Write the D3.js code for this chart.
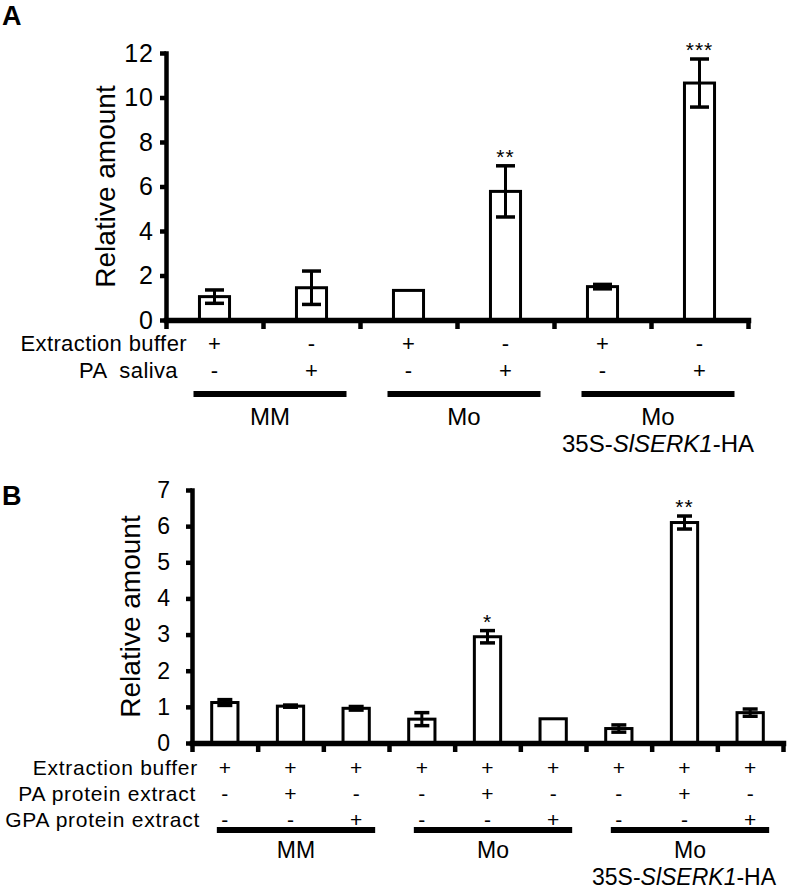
<!DOCTYPE html>
<html>
<head>
<meta charset="utf-8">
<script src="https://cdn.jsdelivr.net/npm/d3@7"></script>
<style>
  body { margin: 0; background: #fff; }
  svg text { font-family: "Liberation Sans", Arial, Helvetica, sans-serif; fill: #000; }
</style>
</head>
<body>
<div id="chart"></div>
<script>
const width = 789;
const height = 889;

// ---- panel A data
const catsA = ['MM-EB', 'MM-PA', 'Mo-EB', 'Mo-PA', 'MoS-EB', 'MoS-PA'];
const meanA = [1.05, 1.45, 1.33, 5.78, 1.5, 10.65];
const errA = [0.3, 0.75, 0, 1.15, 0.1, 1.08];
const starsA = ['', '', '', '**', '', '***'];
const bufferA = ['+', '-', '+', '-', '+', '-'];
const salivaA = ['-', '+', '-', '+', '-', '+'];
const yTicksA = [0, 2, 4, 6, 8, 10, 12];

// ---- panel B data
const catsB = ['MM-EB', 'MM-PA', 'MM-GPA', 'Mo-EB', 'Mo-PA', 'Mo-GPA', 'MoS-EB', 'MoS-PA', 'MoS-GPA'];
const meanB = [1.12, 1.02, 0.96, 0.66, 2.94, 0.67, 0.4, 6.1, 0.84];
const errB = [0.08, 0.03, 0.05, 0.18, 0.17, 0, 0.1, 0.18, 0.1];
const starsB = ['', '', '', '', '*', '', '', '**', ''];
const bufferB = ['+', '+', '+', '+', '+', '+', '+', '+', '+'];
const paB = ['-', '+', '-', '-', '+', '-', '-', '+', '-'];
const gpaB = ['-', '-', '+', '-', '-', '+', '-', '-', '+'];
const yTicksB = [0, 1, 2, 3, 4, 5, 6, 7];

const groups = ['MM', 'Mo', 'Mo'];

const svg = d3.select('#chart')
    .append('svg')
    .attr('width', width)
    .attr('height', height);

function panel(cfg) {
    const n = cfg.cats.length;
    const g = svg.append('g');

    const y = d3.scaleLinear().domain(cfg.yDomain).range([cfg.y0, cfg.yTop]);
    const x = d3.scaleBand().domain(cfg.cats).range([cfg.x0, cfg.x1])
        .paddingInner(cfg.pad).paddingOuter(cfg.pad / 2);
    const xEdge = d3.scaleLinear().domain([0, n]).range([cfg.x0, cfg.x1]);
    const cx = (c) => x(c) + x.bandwidth() / 2;
    const val = (c, s) => {
        const i = cfg.cats.indexOf(c);
        return cfg.mean[i] + s * cfg.err[i];
    };

    // bars
    g.selectAll('rect.bar')
        .data(cfg.cats)
        .join('rect')
        .attr('x', c => x(c))
        .attr('y', (c, i) => y(cfg.mean[i]))
        .attr('width', x.bandwidth())
        .attr('height', (c, i) => y(0) - y(cfg.mean[i]))
        .attr('fill', 'white')
        .attr('stroke', 'black')
        .attr('stroke-width', 3);

    // error bars
    const eb = g.selectAll('g.err')
        .data(cfg.cats.filter((c, i) => cfg.err[i] > 0))
        .join('g');
    eb.append('line')
        .attr('x1', cx).attr('x2', cx)
        .attr('y1', c => y(val(c, 1)))
        .attr('y2', c => y(val(c, -1)))
        .attr('stroke', 'black').attr('stroke-width', 3);
    [1, -1].forEach(s => {
        eb.append('line')
            .attr('x1', c => cx(c) - cfg.cap).attr('x2', c => cx(c) + cfg.cap)
            .attr('y1', c => y(val(c, s)))
            .attr('y2', c => y(val(c, s)))
            .attr('stroke', 'black').attr('stroke-width', 3.5);
    });

    // significance stars
    g.selectAll('text.star')
        .data(cfg.cats)
        .join('text')
        .attr('x', cx)
        .attr('y', (c, i) => y(cfg.mean[i] + cfg.err[i]) - 2)
        .attr('text-anchor', 'middle')
        .attr('font-size', cfg.starSize)
        .attr('letter-spacing', 1)
        .text((c, i) => cfg.stars[i]);

    // y axis
    const yAxis = g.append('g')
        .attr('transform', `translate(${cfg.x0},0)`)
        .call(d3.axisLeft(y).tickValues(cfg.yTicks).tickFormat(d3.format('d'))
            .tickSize(6).tickSizeOuter(0).tickPadding(cfg.tickPad));
    yAxis.select('.domain').attr('stroke-width', 4.5).attr('stroke-linecap', 'square');
    yAxis.selectAll('.tick line').attr('stroke-width', 4.5);
    yAxis.selectAll('.tick text')
        .attr('font-size', cfg.tickSize)
        .attr('letter-spacing', cfg.tickLs)
        .attr('font-family', '"Liberation Sans", Arial, sans-serif');

    // x axis with tick marks at the category edges
    const xAxis = g.append('g')
        .attr('transform', `translate(0,${cfg.y0})`)
        .call(d3.axisBottom(xEdge).tickValues(d3.range(n + 1)).tickFormat('').tickSize(9).tickSizeOuter(0));
    xAxis.select('.domain').attr('stroke-width', 5.5).attr('stroke-linecap', 'square');
    xAxis.selectAll('.tick line').attr('stroke-width', 4.5);

    // y label
    g.append('text')
        .attr('transform', `translate(${cfg.labelX},${(cfg.y0 + cfg.yTop) / 2}) rotate(-90)`)
        .attr('text-anchor', 'middle')
        .attr('font-size', 28)
        .text('Relative amount');

    // treatment rows
    cfg.rows.forEach(row => {
        g.append('text')
            .attr('x', row.lx)
            .attr('y', row.y)
            .attr('text-anchor', 'end')
            .attr('font-size', cfg.rowSize)
            .attr('letter-spacing', cfg.rowLs)
            .style('white-space', 'pre')
            .text(row.label);
        g.selectAll(null)
            .data(cfg.cats)
            .join('text')
            .attr('x', cx)
            .attr('y', row.y)
            .attr('text-anchor', 'middle')
            .attr('font-size', cfg.rowSize)
            .text((c, i) => row.signs[i]);
    });

    // genotype group bars and names
    const per = n / 3;
    groups.forEach((name, k) => {
        const a = cx(cfg.cats[k * per]) + cfg.grpOff[0];
        const b = cx(cfg.cats[k * per + per - 1]) + cfg.grpOff[1];
        g.append('line')
            .attr('x1', a).attr('x2', b)
            .attr('y1', cfg.grpY).attr('y2', cfg.grpY)
            .attr('stroke', 'black').attr('stroke-width', 6);
        g.append('text')
            .attr('x', (a + b) / 2)
            .attr('y', cfg.nameY)
            .attr('text-anchor', 'middle')
            .attr('font-size', cfg.nameSize)
            .text(name);
        if (k === 2) {
            const t = g.append('text')
                .attr('x', (a + b) / 2 + cfg.line2Dx)
                .attr('y', cfg.nameY + cfg.line2)
                .attr('text-anchor', 'middle')
                .attr('font-size', cfg.nameSize);
            t.append('tspan').text('35S-');
            t.append('tspan').attr('font-style', 'italic').text('SlSERK1');
            t.append('tspan').text('-HA');
        }
    });

    // panel letter
    svg.append('text')
        .attr('x', 2)
        .attr('y', cfg.letterY)
        .attr('font-size', 27)
        .attr('font-weight', 'bold')
        .text(cfg.letter);
}

panel({
    letter: 'A', letterY: 25,
    cats: catsA, mean: meanA, err: errA, stars: starsA,
    yDomain: [0, 12], yTicks: yTicksA,
    x0: 166, x1: 748, y0: 320, yTop: 53,
    pad: 0.69, cap: 9.5, starSize: 21, tickSize: 25, tickLs: 1, tickPad: 6,
    labelX: 115,
    rowSize: 22, rowLs: 0.4,
    rows: [
        { label: 'Extraction buffer', signs: bufferA, y: 351, lx: 187 },
        { label: 'PA  saliva', signs: salivaA, y: 378, lx: 178 }
    ],
    grpOff: [-21, 35], grpY: 394, nameY: 425, nameSize: 24, line2: 27, line2Dx: 0
});

panel({
    letter: 'B', letterY: 505,
    cats: catsB, mean: meanB, err: errB, stars: starsB,
    yDomain: [0, 7], yTicks: yTicksB,
    x0: 192, x1: 783, y0: 743, yTop: 490,
    pad: 0.6, cap: 7.5, starSize: 21, tickSize: 23, tickLs: 0, tickPad: 16,
    labelX: 140,
    rowSize: 21, rowLs: 0.75,
    rows: [
        { label: 'Extraction buffer', signs: bufferB, y: 775, lx: 198 },
        { label: 'PA protein extract', signs: paB, y: 801, lx: 196 },
        { label: 'GPA protein extract', signs: gpaB, y: 827, lx: 200 }
    ],
    grpOff: [-8, 19], grpY: 830, nameY: 858, nameSize: 23, line2: 27, line2Dx: -6
});
</script>
</body>
</html>
